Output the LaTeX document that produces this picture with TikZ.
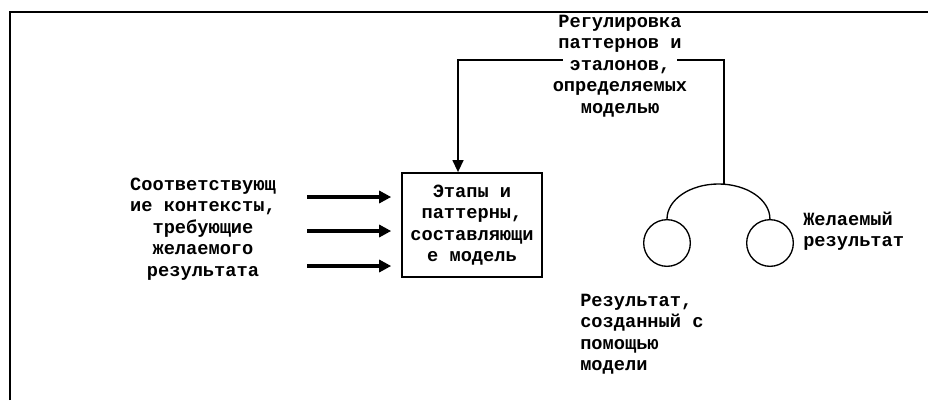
\documentclass[tikz,border=0pt]{standalone}
\usepackage{fontspec}
\setmainfont{Liberation Mono}
\usetikzlibrary{arrows.meta, positioning}

\begin{document}
\begin{tikzpicture}[x=0.75pt, y=-0.75pt,
  every node/.style={font=\fontsize{14}{16.1}\selectfont\bfseries},
  txt/.style={align=center, inner sep=0pt},
  inarrow/.style={line width=2.4pt, -{Triangle[length=9pt, width=9pt]}, shorten >=7.5pt},
  result/.style={draw, circle, line width=1pt, minimum size=35pt, inner sep=0pt}]
  \useasboundingbox (0,0) rectangle (928,400);
  % Frame
  \draw[line width=1.2pt] (10,400) -- (10,12) -- (928,12);
  % Model box
  \node[draw, line width=1.2pt, minimum width=105pt, minimum height=78pt, txt] (model) at (472,225)
    {Этапы и\\паттерны,\\составляющи\\е модель};
  % Contexts and inputs
  \node[txt] (ctx) at (203,229) {Соответствующ\\ие контексты,\\требующие\\желаемого\\результата};
  \coordinate (in1) at (307,197);
  \coordinate (in2) at (307,231);
  \coordinate (in3) at (307,266);
  \draw[inarrow] (in1) -- (in1 -| model.west);
  \draw[inarrow] (in2) -- (in2 -| model.west);
  \draw[inarrow] (in3) -- (in3 -| model.west);
  % Results
  \node[result] (rgot) at (667,243) {};
  \node[result] (rwant) at (770,243) {};
  \draw[line width=1pt] (rgot.north) arc[start angle=180, end angle=0, x radius=38.6pt, y radius=26.25pt];
  \coordinate (fb) at (724,185);
  \coordinate (bend) at (724,60);
  % Feedback to the model
  \draw[line width=1.6pt, -{Triangle[length=9pt, width=8pt]}] (fb) -- (bend) -| ([xshift=-10.5pt]model.north);
  \node[txt, fill=white, inner xsep=-7.6pt] (adj) at (620,66)
    {Регулировка\\паттернов и\\эталонов,\\определяемых\\моделью};
  % Labels
  \node[txt, align=left, anchor=west] (wantlbl) at (803,231) {Желаемый\\результат};
  \node[txt, align=left, anchor=west] (gotlbl) at (580,334) {Результат,\\созданный с\\помощью\\модели};
\end{tikzpicture}
\end{document}
